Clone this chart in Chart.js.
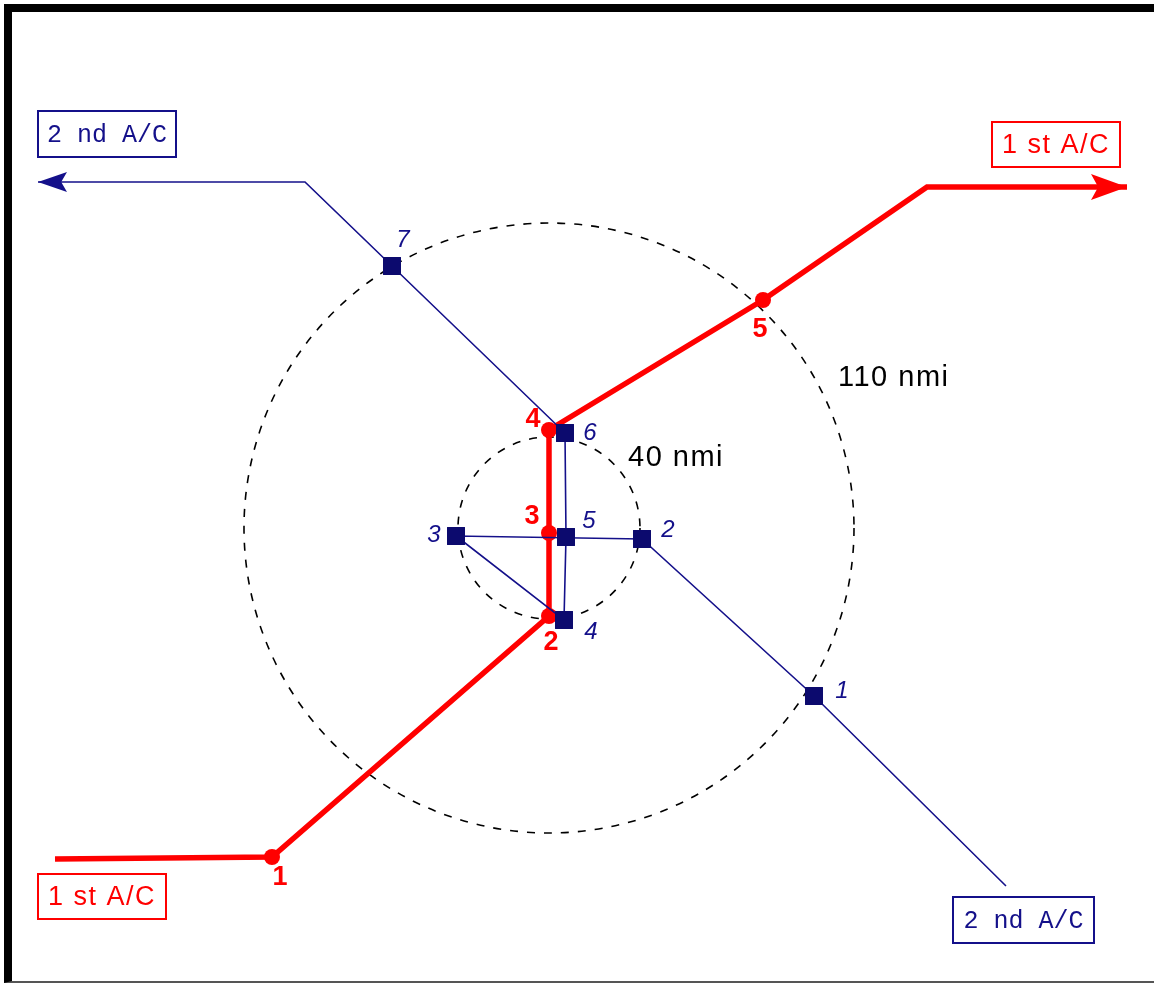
<!DOCTYPE html>
<html>
<head>
<meta charset="utf-8">
<title>Conflict geometry</title>
<script src="https://cdn.jsdelivr.net/npm/chart.js@4/dist/chart.umd.min.js"></script>
<style>
  body { margin: 0; background: #fff; }
  #frame {
    position: absolute; left: 4px; top: 4px;
    width: 1142px; height: 969px;
    border-top: 8px solid #000; border-left: 8px solid #000;
    border-bottom: 2px solid #555;
  }
  canvas { display: block; }
</style>
</head>
<body>
<div id="frame"><canvas id="myChart" width="1142" height="969"></canvas></div>
<script>
// 1 st A/C (red) track, in page units
const firstX = [55, 272, 549, 549, 549, 763, 927, 1127];
const firstY = [859, 857, 616, 533, 430, 300, 187, 187];
const firstLabels = ["", "1", "2", "3", "4", "5", "", ""];

// 2 nd A/C (blue) track
const secondX = [1006, 814, 642, 456, 564, 566, 565, 392, 305, 38];
const secondY = [886, 696, 539, 536, 620, 537, 433, 266, 182, 182];
const secondLabels = ["", "1", "2", "3", "4", "5", "6", "7", "", ""];

// range rings
const ringCenter = [549, 528];
const ringRadius = [305, 91];
const ringLabels = ["110 nmi", "40 nmi"];

// aircraft tags
const tagText = ["2 nd A/C", "1 st A/C", "1 st A/C", "2 nd A/C"];

const RED = "#ff0000";
const BLUE = "#14108a";

// where the texts sit (offsets from their point, or page position)
const firstOffsets = [null, [8, 21], [2, 27], [-17, -16], [-16, -10], [-3, 30]];
const secondOffsets = [null, [28, -5], [26, -9], [-22, -1], [27, 12], [23, -16], [25, 0], [11, -26]];
const ringLabelPos = [[838, 378], [628, 458]];
const tagBoxes = [
  { box: [38, 111, 176, 157], color: BLUE, font: "25px 'Liberation Mono'", spacing: "0px" },
  { box: [992, 122, 1120, 167], color: RED, font: "27px 'Liberation Sans'", spacing: "1.5px" },
  { box: [38, 874, 166, 919], color: RED, font: "27px 'Liberation Sans'", spacing: "1.5px" },
  { box: [953, 897, 1094, 943], color: BLUE, font: "25px 'Liberation Mono'", spacing: "0px" },
];

const toPoints = (xs, ys) => xs.map((x, i) => ({ x: x, y: ys[i] }));

// dashed range rings, drawn under the tracks
const ringsPlugin = {
  id: "rings",
  beforeDatasetsDraw(chart) {
    const { ctx, scales } = chart;
    const cx = scales.x.getPixelForValue(ringCenter[0]);
    const cy = scales.y.getPixelForValue(ringCenter[1]);
    ctx.save();
    ctx.strokeStyle = "#000";
    ctx.lineWidth = 1.6;
    ctx.setLineDash([8, 9]);
    ringRadius.forEach((r) => {
      const rp = scales.x.getPixelForValue(ringCenter[0] + r) - cx;
      ctx.beginPath();
      ctx.arc(cx, cy, rp, 0, Math.PI * 2);
      ctx.stroke();
    });
    ctx.restore();
  },
};

// arrow heads on the last segment of each track
const arrowSizes = [[29, 10], [36, 13]];
const arrowsPlugin = {
  id: "arrows",
  afterDatasetsDraw(chart) {
    const ctx = chart.ctx;
    chart.data.datasets.forEach((ds, i) => {
      const pts = chart.getDatasetMeta(i).data;
      const tip = pts[pts.length - 1];
      const prev = pts[pts.length - 2];
      const len = Math.hypot(tip.x - prev.x, tip.y - prev.y);
      const dx = (tip.x - prev.x) / len;
      const dy = (tip.y - prev.y) / len;
      const [L, W] = arrowSizes[i];
      ctx.save();
      ctx.fillStyle = ds.borderColor;
      ctx.beginPath();
      ctx.moveTo(tip.x, tip.y);
      ctx.lineTo(tip.x - dx * L - dy * W, tip.y - dy * L + dx * W);
      ctx.lineTo(tip.x - dx * L * 0.8, tip.y - dy * L * 0.8);
      ctx.lineTo(tip.x - dx * L + dy * W, tip.y - dy * L - dx * W);
      ctx.closePath();
      ctx.fill();
      ctx.restore();
    });
  },
};

// numbers, ring labels and aircraft tags
const labelsPlugin = {
  id: "labels",
  afterDraw(chart) {
    const { ctx, scales } = chart;
    ctx.save();
    ctx.textAlign = "center";
    ctx.textBaseline = "middle";

    const blueMeta = chart.getDatasetMeta(0).data;
    ctx.fillStyle = BLUE;
    ctx.font = "italic 24px 'Liberation Sans'";
    secondLabels.forEach((t, i) => {
      if (!t) return;
      const p = blueMeta[i];
      ctx.fillText(t, p.x + secondOffsets[i][0], p.y + secondOffsets[i][1]);
    });

    const redMeta = chart.getDatasetMeta(1).data;
    ctx.fillStyle = RED;
    ctx.font = "bold 27px 'Liberation Sans'";
    firstLabels.forEach((t, i) => {
      if (!t) return;
      const p = redMeta[i];
      ctx.fillText(t, p.x + firstOffsets[i][0], p.y + firstOffsets[i][1]);
    });

    ctx.fillStyle = "#000";
    ctx.textAlign = "left";
    ctx.font = "29px 'Liberation Sans'";
    ctx.letterSpacing = "1.5px";
    ringLabels.forEach((t, i) => {
      const x = scales.x.getPixelForValue(ringLabelPos[i][0]);
      const y = scales.y.getPixelForValue(ringLabelPos[i][1]);
      ctx.fillText(t, x, y);
    });

    ctx.textAlign = "center";
    tagText.forEach((t, i) => {
      const tag = tagBoxes[i];
      const x0 = scales.x.getPixelForValue(tag.box[0]);
      const y0 = scales.y.getPixelForValue(tag.box[1]);
      const x1 = scales.x.getPixelForValue(tag.box[2]);
      const y1 = scales.y.getPixelForValue(tag.box[3]);
      ctx.fillStyle = "#fff";
      ctx.fillRect(x0, y0, x1 - x0, y1 - y0);
      ctx.strokeStyle = tag.color;
      ctx.lineWidth = 2;
      ctx.strokeRect(x0, y0, x1 - x0, y1 - y0);
      ctx.fillStyle = tag.color;
      ctx.font = tag.font;
      ctx.letterSpacing = tag.spacing;
      ctx.fillText(t, (x0 + x1) / 2, (y0 + y1) / 2 + 1);
    });
    ctx.restore();
  },
};

const ctx = document.getElementById("myChart");
const myChart = new Chart(ctx, {
  type: "scatter",
  data: {
    datasets: [
      {
        label: "2 nd A/C",
        data: toPoints(secondX, secondY),
        showLine: true,
        borderColor: BLUE,
        borderWidth: 1.6,
        pointStyle: "rect",
        pointRadius: secondLabels.map((l) => (l ? 12.7 : 0)),
        pointBackgroundColor: "#0c0a6e",
        pointBorderWidth: 0,
        order: 0,
      },
      {
        label: "1 st A/C",
        data: toPoints(firstX, firstY),
        showLine: true,
        borderColor: RED,
        borderWidth: 5.5,
        pointStyle: "circle",
        pointRadius: firstLabels.map((l) => (l ? 8 : 0)),
        pointBackgroundColor: RED,
        pointBorderWidth: 0,
        order: 1,
      },
    ],
  },
  options: {
    responsive: false,
    animation: false,
    layout: { padding: 0 },
    scales: {
      x: { type: "linear", min: 12, max: 1154, display: false },
      y: { type: "linear", min: 12, max: 981, reverse: true, display: false },
    },
    plugins: {
      legend: { display: false },
      tooltip: { enabled: false },
    },
  },
  plugins: [ringsPlugin, arrowsPlugin, labelsPlugin],
});
</script>
</body>
</html>
